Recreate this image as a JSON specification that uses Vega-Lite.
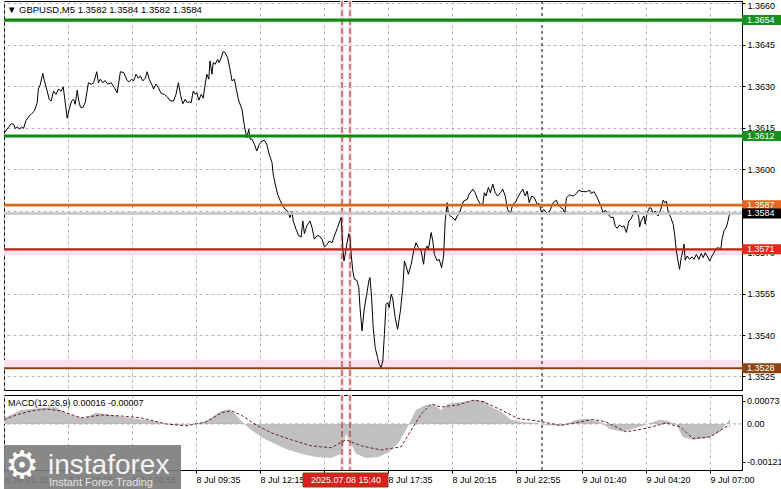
{
"$schema": "https://vega.github.io/schema/vega-lite/v6.json",
"background": "#ffffff",
"padding": {"left": 3, "top": 0, "right": 0, "bottom": 0},
"spacing": 3,
"config": {
  "view": {"stroke": "#000000", "strokeWidth": 1},
  "text": {"font": "Liberation Sans"},
  "axis": {"labelFont": "Liberation Sans", "labelFontSize": 9, "labelColor": "#000000", "tickColor": "#000000", "domainColor": "#000000", "gridColor": "#b4b4b4", "gridDash": [3, 3], "gridWidth": 1, "tickSize": 3, "labelPadding": 2}
},
"resolve": {"scale": {"x": "independent", "y": "independent"}},
"datasets": {
  "price": [
    {"t":"2025-07-08T01:35:00Z","p":1.36129},{"t":"2025-07-08T01:44:00Z","p":1.36148},{"t":"2025-07-08T01:53:00Z","p":1.36165},{"t":"2025-07-08T01:59:00Z","p":1.36163},
    {"t":"2025-07-08T02:03:00Z","p":1.36148},{"t":"2025-07-08T02:09:00Z","p":1.36153},{"t":"2025-07-08T02:13:00Z","p":1.36145},{"t":"2025-07-08T02:19:00Z","p":1.36153},
    {"t":"2025-07-08T02:24:00Z","p":1.36148},{"t":"2025-07-08T02:30:00Z","p":1.36177},{"t":"2025-07-08T02:38:00Z","p":1.36193},{"t":"2025-07-08T02:44:00Z","p":1.36201},
    {"t":"2025-07-08T02:51:00Z","p":1.36211},{"t":"2025-07-08T02:58:00Z","p":1.36241},{"t":"2025-07-08T03:01:00Z","p":1.36290},{"t":"2025-07-08T03:06:00Z","p":1.36308},
    {"t":"2025-07-08T03:12:00Z","p":1.36347},{"t":"2025-07-08T03:16:00Z","p":1.36320},{"t":"2025-07-08T03:23:00Z","p":1.36283},{"t":"2025-07-08T03:28:00Z","p":1.36253},
    {"t":"2025-07-08T03:33:00Z","p":1.36247},{"t":"2025-07-08T03:39:00Z","p":1.36283},{"t":"2025-07-08T03:45:00Z","p":1.36271},{"t":"2025-07-08T03:51:00Z","p":1.36290},
    {"t":"2025-07-08T03:58:00Z","p":1.36283},{"t":"2025-07-08T04:03:00Z","p":1.36298},{"t":"2025-07-08T04:06:00Z","p":1.36265},{"t":"2025-07-08T04:13:00Z","p":1.36185},
    {"t":"2025-07-08T04:18:00Z","p":1.36217},{"t":"2025-07-08T04:24:00Z","p":1.36247},{"t":"2025-07-08T04:29:00Z","p":1.36253},{"t":"2025-07-08T04:33:00Z","p":1.36235},
    {"t":"2025-07-08T04:38:00Z","p":1.36286},{"t":"2025-07-08T04:42:00Z","p":1.36247},{"t":"2025-07-08T04:46:00Z","p":1.36225},{"t":"2025-07-08T04:52:00Z","p":1.36223},
    {"t":"2025-07-08T04:58:00Z","p":1.36241},{"t":"2025-07-08T05:06:00Z","p":1.36313},{"t":"2025-07-08T05:13:00Z","p":1.36308},{"t":"2025-07-08T05:19:00Z","p":1.36313},
    {"t":"2025-07-08T05:27:00Z","p":1.36353},{"t":"2025-07-08T05:31:00Z","p":1.36313},{"t":"2025-07-08T05:36:00Z","p":1.36326},{"t":"2025-07-08T05:42:00Z","p":1.36313},
    {"t":"2025-07-08T05:48:00Z","p":1.36321},{"t":"2025-07-08T05:54:00Z","p":1.36308},{"t":"2025-07-08T06:03:00Z","p":1.36313},{"t":"2025-07-08T06:11:00Z","p":1.36295},
    {"t":"2025-07-08T06:18:00Z","p":1.36277},{"t":"2025-07-08T06:26:00Z","p":1.36353},{"t":"2025-07-08T06:34:00Z","p":1.36350},{"t":"2025-07-08T06:43:00Z","p":1.36321},
    {"t":"2025-07-08T06:48:00Z","p":1.36317},{"t":"2025-07-08T06:54:00Z","p":1.36326},{"t":"2025-07-08T06:59:00Z","p":1.36320},{"t":"2025-07-08T07:05:00Z","p":1.36344},
    {"t":"2025-07-08T07:11:00Z","p":1.36329},{"t":"2025-07-08T07:16:00Z","p":1.36338},{"t":"2025-07-08T07:22:00Z","p":1.36320},{"t":"2025-07-08T07:28:00Z","p":1.36329},
    {"t":"2025-07-08T07:33:00Z","p":1.36353},{"t":"2025-07-08T07:38:00Z","p":1.36326},{"t":"2025-07-08T07:44:00Z","p":1.36308},{"t":"2025-07-08T07:49:00Z","p":1.36290},
    {"t":"2025-07-08T07:55:00Z","p":1.36308},{"t":"2025-07-08T08:01:00Z","p":1.36295},{"t":"2025-07-08T08:08:00Z","p":1.36274},{"t":"2025-07-08T08:16:00Z","p":1.36271},
    {"t":"2025-07-08T08:23:00Z","p":1.36262},{"t":"2025-07-08T08:31:00Z","p":1.36247},{"t":"2025-07-08T08:39:00Z","p":1.36247},{"t":"2025-07-08T08:45:00Z","p":1.36271},
    {"t":"2025-07-08T08:51:00Z","p":1.36313},{"t":"2025-07-08T08:56:00Z","p":1.36271},{"t":"2025-07-08T09:02:00Z","p":1.36237},{"t":"2025-07-08T09:08:00Z","p":1.36253},
    {"t":"2025-07-08T09:13:00Z","p":1.36241},{"t":"2025-07-08T09:18:00Z","p":1.36244},{"t":"2025-07-08T09:23:00Z","p":1.36241},{"t":"2025-07-08T09:28:00Z","p":1.36283},
    {"t":"2025-07-08T09:33:00Z","p":1.36271},{"t":"2025-07-08T09:37:00Z","p":1.36277},{"t":"2025-07-08T09:42:00Z","p":1.36250},{"t":"2025-07-08T09:48:00Z","p":1.36271},
    {"t":"2025-07-08T09:53:00Z","p":1.36257},{"t":"2025-07-08T09:58:00Z","p":1.36308},{"t":"2025-07-08T10:02:00Z","p":1.36344},{"t":"2025-07-08T10:07:00Z","p":1.36326},
    {"t":"2025-07-08T10:10:00Z","p":1.36392},{"t":"2025-07-08T10:15:00Z","p":1.36344},{"t":"2025-07-08T10:18:00Z","p":1.36386},{"t":"2025-07-08T10:23:00Z","p":1.36380},
    {"t":"2025-07-08T10:29:00Z","p":1.36398},{"t":"2025-07-08T10:33:00Z","p":1.36386},{"t":"2025-07-08T10:38:00Z","p":1.36404},{"t":"2025-07-08T10:43:00Z","p":1.36426},
    {"t":"2025-07-08T10:48:00Z","p":1.36422},{"t":"2025-07-08T10:54:00Z","p":1.36404},{"t":"2025-07-08T11:00:00Z","p":1.36362},{"t":"2025-07-08T11:05:00Z","p":1.36320},
    {"t":"2025-07-08T11:11:00Z","p":1.36326},{"t":"2025-07-08T11:15:00Z","p":1.36295},{"t":"2025-07-08T11:22:00Z","p":1.36247},{"t":"2025-07-08T11:30:00Z","p":1.36217},
    {"t":"2025-07-08T11:36:00Z","p":1.36157},{"t":"2025-07-08T11:42:00Z","p":1.36114},{"t":"2025-07-08T11:47:00Z","p":1.36145},{"t":"2025-07-08T11:50:00Z","p":1.36109},
    {"t":"2025-07-08T11:55:00Z","p":1.36109},{"t":"2025-07-08T12:01:00Z","p":1.36090},{"t":"2025-07-08T12:07:00Z","p":1.36066},{"t":"2025-07-08T12:13:00Z","p":1.36090},
    {"t":"2025-07-08T12:20:00Z","p":1.36102},{"t":"2025-07-08T12:26:00Z","p":1.36105},{"t":"2025-07-08T12:32:00Z","p":1.36090},{"t":"2025-07-08T12:38:00Z","p":1.36054},
    {"t":"2025-07-08T12:45:00Z","p":1.36024},{"t":"2025-07-08T12:48:00Z","p":1.35982},{"t":"2025-07-08T12:53:00Z","p":1.35946},{"t":"2025-07-08T12:59:00Z","p":1.35910},
    {"t":"2025-07-08T13:05:00Z","p":1.35888},{"t":"2025-07-08T13:12:00Z","p":1.35867},{"t":"2025-07-08T13:18:00Z","p":1.35855},{"t":"2025-07-08T13:24:00Z","p":1.35849},
    {"t":"2025-07-08T13:30:00Z","p":1.35825},{"t":"2025-07-08T13:35:00Z","p":1.35847},{"t":"2025-07-08T13:38:00Z","p":1.35813},{"t":"2025-07-08T13:45:00Z","p":1.35783},
    {"t":"2025-07-08T13:52:00Z","p":1.35759},{"t":"2025-07-08T13:58:00Z","p":1.35755},{"t":"2025-07-08T14:02:00Z","p":1.35813},{"t":"2025-07-08T14:06:00Z","p":1.35767},
    {"t":"2025-07-08T14:12:00Z","p":1.35795},{"t":"2025-07-08T14:17:00Z","p":1.35807},{"t":"2025-07-08T14:20:00Z","p":1.35813},{"t":"2025-07-08T14:25:00Z","p":1.35789},
    {"t":"2025-07-08T14:31:00Z","p":1.35747},{"t":"2025-07-08T14:37:00Z","p":1.35759},{"t":"2025-07-08T14:43:00Z","p":1.35759},{"t":"2025-07-08T14:50:00Z","p":1.35747},
    {"t":"2025-07-08T14:56:00Z","p":1.35719},{"t":"2025-07-08T15:02:00Z","p":1.35726},{"t":"2025-07-08T15:08:00Z","p":1.35740},{"t":"2025-07-08T15:15:00Z","p":1.35734},
    {"t":"2025-07-08T15:21:00Z","p":1.35759},{"t":"2025-07-08T15:29:00Z","p":1.35789},{"t":"2025-07-08T15:35:00Z","p":1.35815},{"t":"2025-07-08T15:38:00Z","p":1.35825},
    {"t":"2025-07-08T15:42:00Z","p":1.35716},{"t":"2025-07-08T15:45:00Z","p":1.35668},{"t":"2025-07-08T15:48:00Z","p":1.35692},{"t":"2025-07-08T15:52:00Z","p":1.35729},
    {"t":"2025-07-08T15:57:00Z","p":1.35767},{"t":"2025-07-08T16:00:00Z","p":1.35752},{"t":"2025-07-08T16:03:00Z","p":1.35692},{"t":"2025-07-08T16:07:00Z","p":1.35632},
    {"t":"2025-07-08T16:11:00Z","p":1.35602},{"t":"2025-07-08T16:17:00Z","p":1.35598},{"t":"2025-07-08T16:22:00Z","p":1.35572},{"t":"2025-07-08T16:25:00Z","p":1.35499},
    {"t":"2025-07-08T16:30:00Z","p":1.35415},{"t":"2025-07-08T16:36:00Z","p":1.35499},{"t":"2025-07-08T16:42:00Z","p":1.35548},{"t":"2025-07-08T16:47:00Z","p":1.35596},
    {"t":"2025-07-08T16:50:00Z","p":1.35608},{"t":"2025-07-08T16:54:00Z","p":1.35535},{"t":"2025-07-08T16:58:00Z","p":1.35427},{"t":"2025-07-08T17:03:00Z","p":1.35354},
    {"t":"2025-07-08T17:09:00Z","p":1.35318},{"t":"2025-07-08T17:13:00Z","p":1.35294},{"t":"2025-07-08T17:18:00Z","p":1.35282},{"t":"2025-07-08T17:22:00Z","p":1.35306},
    {"t":"2025-07-08T17:26:00Z","p":1.35403},{"t":"2025-07-08T17:30:00Z","p":1.35511},{"t":"2025-07-08T17:34:00Z","p":1.35517},{"t":"2025-07-08T17:38:00Z","p":1.35499},
    {"t":"2025-07-08T17:43:00Z","p":1.35548},{"t":"2025-07-08T17:47:00Z","p":1.35530},{"t":"2025-07-08T17:53:00Z","p":1.35463},{"t":"2025-07-08T17:59:00Z","p":1.35421},
    {"t":"2025-07-08T18:06:00Z","p":1.35487},{"t":"2025-07-08T18:12:00Z","p":1.35572},{"t":"2025-07-08T18:16:00Z","p":1.35668},{"t":"2025-07-08T18:20:00Z","p":1.35650},
    {"t":"2025-07-08T18:26:00Z","p":1.35620},{"t":"2025-07-08T18:33:00Z","p":1.35656},{"t":"2025-07-08T18:39:00Z","p":1.35704},{"t":"2025-07-08T18:45:00Z","p":1.35734},
    {"t":"2025-07-08T18:51:00Z","p":1.35716},{"t":"2025-07-08T18:58:00Z","p":1.35704},{"t":"2025-07-08T19:04:00Z","p":1.35656},{"t":"2025-07-08T19:08:00Z","p":1.35710},
    {"t":"2025-07-08T19:13:00Z","p":1.35722},{"t":"2025-07-08T19:16:00Z","p":1.35710},{"t":"2025-07-08T19:23:00Z","p":1.35771},{"t":"2025-07-08T19:27:00Z","p":1.35740},
    {"t":"2025-07-08T19:31:00Z","p":1.35692},{"t":"2025-07-08T19:38:00Z","p":1.35668},{"t":"2025-07-08T19:43:00Z","p":1.35674},{"t":"2025-07-08T19:49:00Z","p":1.35644},
    {"t":"2025-07-08T19:54:00Z","p":1.35686},{"t":"2025-07-08T19:58:00Z","p":1.35813},{"t":"2025-07-08T20:03:00Z","p":1.35879},{"t":"2025-07-08T20:06:00Z","p":1.35837},
    {"t":"2025-07-08T20:11:00Z","p":1.35831},{"t":"2025-07-08T20:17:00Z","p":1.35825},{"t":"2025-07-08T20:23:00Z","p":1.35815},{"t":"2025-07-08T20:28:00Z","p":1.35831},
    {"t":"2025-07-08T20:33:00Z","p":1.35837},{"t":"2025-07-08T20:38:00Z","p":1.35861},{"t":"2025-07-08T20:44:00Z","p":1.35885},{"t":"2025-07-08T20:53:00Z","p":1.35891},
    {"t":"2025-07-08T20:58:00Z","p":1.35910},{"t":"2025-07-08T21:07:00Z","p":1.35928},{"t":"2025-07-08T21:13:00Z","p":1.35915},{"t":"2025-07-08T21:19:00Z","p":1.35891},
    {"t":"2025-07-08T21:26:00Z","p":1.35873},{"t":"2025-07-08T21:32:00Z","p":1.35873},{"t":"2025-07-08T21:36:00Z","p":1.35915},{"t":"2025-07-08T21:40:00Z","p":1.35903},
    {"t":"2025-07-08T21:46:00Z","p":1.35934},{"t":"2025-07-08T21:51:00Z","p":1.35915},{"t":"2025-07-08T21:57:00Z","p":1.35946},{"t":"2025-07-08T22:03:00Z","p":1.35915},
    {"t":"2025-07-08T22:09:00Z","p":1.35903},{"t":"2025-07-08T22:16:00Z","p":1.35915},{"t":"2025-07-08T22:22:00Z","p":1.35928},{"t":"2025-07-08T22:28:00Z","p":1.35903},
    {"t":"2025-07-08T22:34:00Z","p":1.35855},{"t":"2025-07-08T22:41:00Z","p":1.35839},{"t":"2025-07-08T22:47:00Z","p":1.35873},{"t":"2025-07-08T22:53:00Z","p":1.35879},
    {"t":"2025-07-08T22:59:00Z","p":1.35897},{"t":"2025-07-08T23:06:00Z","p":1.35915},{"t":"2025-07-08T23:12:00Z","p":1.35928},{"t":"2025-07-08T23:18:00Z","p":1.35903},
    {"t":"2025-07-08T23:23:00Z","p":1.35921},{"t":"2025-07-08T23:28:00Z","p":1.35879},{"t":"2025-07-08T23:34:00Z","p":1.35903},{"t":"2025-07-08T23:41:00Z","p":1.35897},
    {"t":"2025-07-08T23:48:00Z","p":1.35873},{"t":"2025-07-08T23:53:00Z","p":1.35876},{"t":"2025-07-08T23:59:00Z","p":1.35843},{"t":"2025-07-09T00:04:00Z","p":1.35855},
    {"t":"2025-07-09T00:15:00Z","p":1.35837},{"t":"2025-07-09T00:21:00Z","p":1.35855},{"t":"2025-07-09T00:28:00Z","p":1.35879},{"t":"2025-07-09T00:36:00Z","p":1.35888},
    {"t":"2025-07-09T00:40:00Z","p":1.35873},{"t":"2025-07-09T00:47:00Z","p":1.35861},{"t":"2025-07-09T00:53:00Z","p":1.35855},{"t":"2025-07-09T00:57:00Z","p":1.35839},
    {"t":"2025-07-09T01:01:00Z","p":1.35897},{"t":"2025-07-09T01:09:00Z","p":1.35907},{"t":"2025-07-09T01:18:00Z","p":1.35903},{"t":"2025-07-09T01:26:00Z","p":1.35912},
    {"t":"2025-07-09T01:32:00Z","p":1.35924},{"t":"2025-07-09T01:40:00Z","p":1.35919},{"t":"2025-07-09T01:51:00Z","p":1.35919},{"t":"2025-07-09T01:59:00Z","p":1.35924},
    {"t":"2025-07-09T02:03:00Z","p":1.35912},{"t":"2025-07-09T02:10:00Z","p":1.35919},{"t":"2025-07-09T02:16:00Z","p":1.35903},{"t":"2025-07-09T02:22:00Z","p":1.35885},
    {"t":"2025-07-09T02:27:00Z","p":1.35867},{"t":"2025-07-09T02:33:00Z","p":1.35843},{"t":"2025-07-09T02:38:00Z","p":1.35852},{"t":"2025-07-09T02:45:00Z","p":1.35839},
    {"t":"2025-07-09T02:52:00Z","p":1.35825},{"t":"2025-07-09T02:58:00Z","p":1.35827},{"t":"2025-07-09T03:03:00Z","p":1.35795},{"t":"2025-07-09T03:08:00Z","p":1.35786},
    {"t":"2025-07-09T03:14:00Z","p":1.35798},{"t":"2025-07-09T03:20:00Z","p":1.35791},{"t":"2025-07-09T03:25:00Z","p":1.35795},{"t":"2025-07-09T03:31:00Z","p":1.35771},
    {"t":"2025-07-09T03:37:00Z","p":1.35813},{"t":"2025-07-09T03:42:00Z","p":1.35819},{"t":"2025-07-09T03:48:00Z","p":1.35837},{"t":"2025-07-09T03:53:00Z","p":1.35849},
    {"t":"2025-07-09T03:58:00Z","p":1.35843},{"t":"2025-07-09T04:02:00Z","p":1.35825},{"t":"2025-07-09T04:04:00Z","p":1.35791},{"t":"2025-07-09T04:08:00Z","p":1.35813},
    {"t":"2025-07-09T04:15:00Z","p":1.35831},{"t":"2025-07-09T04:18:00Z","p":1.35801},{"t":"2025-07-09T04:23:00Z","p":1.35843},{"t":"2025-07-09T04:29:00Z","p":1.35861},
    {"t":"2025-07-09T04:33:00Z","p":1.35859},{"t":"2025-07-09T04:38:00Z","p":1.35837},{"t":"2025-07-09T04:43:00Z","p":1.35849},{"t":"2025-07-09T04:50:00Z","p":1.35831},
    {"t":"2025-07-09T04:57:00Z","p":1.35855},{"t":"2025-07-09T05:03:00Z","p":1.35888},{"t":"2025-07-09T05:07:00Z","p":1.35879},{"t":"2025-07-09T05:11:00Z","p":1.35885},
    {"t":"2025-07-09T05:15:00Z","p":1.35849},{"t":"2025-07-09T05:22:00Z","p":1.35825},{"t":"2025-07-09T05:28:00Z","p":1.35801},{"t":"2025-07-09T05:32:00Z","p":1.35759},
    {"t":"2025-07-09T05:36:00Z","p":1.35704},{"t":"2025-07-09T05:40:00Z","p":1.35668},{"t":"2025-07-09T05:44:00Z","p":1.35638},{"t":"2025-07-09T05:48:00Z","p":1.35680},
    {"t":"2025-07-09T05:53:00Z","p":1.35710},{"t":"2025-07-09T05:55:00Z","p":1.35729},{"t":"2025-07-09T05:58:00Z","p":1.35671},{"t":"2025-07-09T06:03:00Z","p":1.35686},
    {"t":"2025-07-09T06:09:00Z","p":1.35674},{"t":"2025-07-09T06:15:00Z","p":1.35683},{"t":"2025-07-09T06:20:00Z","p":1.35674},{"t":"2025-07-09T06:26:00Z","p":1.35692},
    {"t":"2025-07-09T06:32:00Z","p":1.35674},{"t":"2025-07-09T06:38:00Z","p":1.35695},{"t":"2025-07-09T06:43:00Z","p":1.35680},{"t":"2025-07-09T06:48:00Z","p":1.35698},
    {"t":"2025-07-09T06:53:00Z","p":1.35686},{"t":"2025-07-09T06:59:00Z","p":1.35668},{"t":"2025-07-09T07:05:00Z","p":1.35686},{"t":"2025-07-09T07:10:00Z","p":1.35698},
    {"t":"2025-07-09T07:16:00Z","p":1.35714},{"t":"2025-07-09T07:22:00Z","p":1.35716},{"t":"2025-07-09T07:27:00Z","p":1.35710},{"t":"2025-07-09T07:30:00Z","p":1.35747},
    {"t":"2025-07-09T07:35:00Z","p":1.35777},{"t":"2025-07-09T07:41:00Z","p":1.35791},{"t":"2025-07-09T07:45:00Z","p":1.35813},{"t":"2025-07-09T07:49:00Z","p":1.35840}
  ],
  "hist": [
    {"t":"2025-07-08T01:35:00Z","v":0.00019},{"t":"2025-07-08T02:17:00Z","v":0.00044},{"t":"2025-07-08T03:08:00Z","v":0.00050},{"t":"2025-07-08T03:45:00Z","v":0.00053},
    {"t":"2025-07-08T04:03:00Z","v":0.00038},{"t":"2025-07-08T04:23:00Z","v":0.00028},{"t":"2025-07-08T04:55:00Z","v":0.00017},{"t":"2025-07-08T05:25:00Z","v":0.00035},
    {"t":"2025-07-08T05:50:00Z","v":0.00031},{"t":"2025-07-08T06:23:00Z","v":0.00024},{"t":"2025-07-08T07:00:00Z","v":0.00017},{"t":"2025-07-08T07:43:00Z","v":0.00011},
    {"t":"2025-07-08T08:08:00Z","v":0.00003},{"t":"2025-07-08T08:33:00Z","v":-0.00003},{"t":"2025-07-08T09:10:00Z","v":-0.00003},{"t":"2025-07-08T09:48:00Z","v":0.00003},
    {"t":"2025-07-08T10:13:00Z","v":0.00019},{"t":"2025-07-08T10:38:00Z","v":0.00041},{"t":"2025-07-08T10:58:00Z","v":0.00047},{"t":"2025-07-08T11:15:00Z","v":0.00028},
    {"t":"2025-07-08T11:33:00Z","v":0.00003},{"t":"2025-07-08T11:53:00Z","v":-0.00019},{"t":"2025-07-08T12:18:00Z","v":-0.00041},{"t":"2025-07-08T12:43:00Z","v":-0.00057},
    {"t":"2025-07-08T13:20:00Z","v":-0.00079},{"t":"2025-07-08T13:58:00Z","v":-0.00094},{"t":"2025-07-08T14:35:00Z","v":-0.00104},{"t":"2025-07-08T15:13:00Z","v":-0.00107},
    {"t":"2025-07-08T15:38:00Z","v":-0.00094},{"t":"2025-07-08T15:50:00Z","v":-0.00031},{"t":"2025-07-08T16:00:00Z","v":-0.00057},{"t":"2025-07-08T16:15:00Z","v":-0.00094},
    {"t":"2025-07-08T16:40:00Z","v":-0.00107},{"t":"2025-07-08T17:12:00Z","v":-0.00104},{"t":"2025-07-08T17:38:00Z","v":-0.00088},{"t":"2025-07-08T18:03:00Z","v":-0.00057},
    {"t":"2025-07-08T18:20:00Z","v":-0.00019},{"t":"2025-07-08T18:33:00Z","v":0.00013},{"t":"2025-07-08T18:45:00Z","v":0.00044},{"t":"2025-07-08T19:10:00Z","v":0.00060},
    {"t":"2025-07-08T19:30:00Z","v":0.00060},{"t":"2025-07-08T19:48:00Z","v":0.00044},{"t":"2025-07-08T20:05:00Z","v":0.00063},{"t":"2025-07-08T20:38:00Z","v":0.00069},
    {"t":"2025-07-08T21:10:00Z","v":0.00075},{"t":"2025-07-08T21:35:00Z","v":0.00072},{"t":"2025-07-08T21:53:00Z","v":0.00053},{"t":"2025-07-08T22:18:00Z","v":0.00038},
    {"t":"2025-07-08T22:43:00Z","v":0.00013},{"t":"2025-07-08T23:08:00Z","v":0.00006},{"t":"2025-07-08T23:45:00Z","v":0.00003},{"t":"2025-07-09T00:15:00Z","v":-0.00005},
    {"t":"2025-07-09T00:53:00Z","v":-0.00005},{"t":"2025-07-09T01:25:00Z","v":0.00013},{"t":"2025-07-09T01:55:00Z","v":0.00016},{"t":"2025-07-09T02:25:00Z","v":0.00006},
    {"t":"2025-07-09T02:50:00Z","v":-0.00016},{"t":"2025-07-09T03:22:00Z","v":-0.00025},{"t":"2025-07-09T04:12:00Z","v":-0.00006},{"t":"2025-07-09T04:55:00Z","v":0.00013},
    {"t":"2025-07-09T05:15:00Z","v":0.00009},{"t":"2025-07-09T05:35:00Z","v":0.00000},{"t":"2025-07-09T05:52:00Z","v":-0.00041},{"t":"2025-07-09T06:17:00Z","v":-0.00050},
    {"t":"2025-07-09T06:55:00Z","v":-0.00044},{"t":"2025-07-09T07:25:00Z","v":-0.00025},{"t":"2025-07-09T07:40:00Z","v":0.00000},{"t":"2025-07-09T07:50:00Z","v":0.00016}
  ],
  "signal": [
    {"t":"2025-07-08T01:35:00Z","v":0.00013},{"t":"2025-07-08T02:05:00Z","v":0.00028},{"t":"2025-07-08T02:43:00Z","v":0.00041},{"t":"2025-07-08T03:20:00Z","v":0.00047},
    {"t":"2025-07-08T03:58:00Z","v":0.00041},{"t":"2025-07-08T04:48:00Z","v":0.00019},{"t":"2025-07-08T05:38:00Z","v":0.00028},{"t":"2025-07-08T06:28:00Z","v":0.00025},
    {"t":"2025-07-08T07:18:00Z","v":0.00019},{"t":"2025-07-08T08:20:00Z","v":0.00000},{"t":"2025-07-08T09:10:00Z","v":-0.00006},{"t":"2025-07-08T10:00:00Z","v":0.00006},
    {"t":"2025-07-08T10:38:00Z","v":0.00035},{"t":"2025-07-08T11:03:00Z","v":0.00041},{"t":"2025-07-08T11:28:00Z","v":0.00028},{"t":"2025-07-08T12:05:00Z","v":-0.00003},
    {"t":"2025-07-08T12:43:00Z","v":-0.00028},{"t":"2025-07-08T13:33:00Z","v":-0.00050},{"t":"2025-07-08T14:23:00Z","v":-0.00069},{"t":"2025-07-08T15:13:00Z","v":-0.00075},
    {"t":"2025-07-08T15:50:00Z","v":-0.00050},{"t":"2025-07-08T16:28:00Z","v":-0.00069},{"t":"2025-07-08T17:18:00Z","v":-0.00082},{"t":"2025-07-08T18:08:00Z","v":-0.00072},
    {"t":"2025-07-08T18:33:00Z","v":-0.00019},{"t":"2025-07-08T18:58:00Z","v":0.00031},{"t":"2025-07-08T19:23:00Z","v":0.00063},{"t":"2025-07-08T19:48:00Z","v":0.00053},
    {"t":"2025-07-08T20:30:00Z","v":0.00060},{"t":"2025-07-08T21:10:00Z","v":0.00075},{"t":"2025-07-08T21:35:00Z","v":0.00069},{"t":"2025-07-08T22:18:00Z","v":0.00044},
    {"t":"2025-07-08T23:00:00Z","v":0.00017},{"t":"2025-07-08T23:40:00Z","v":0.00011},{"t":"2025-07-09T00:20:00Z","v":0.00002},{"t":"2025-07-09T00:45:00Z","v":-0.00005},
    {"t":"2025-07-09T01:17:00Z","v":0.00002},{"t":"2025-07-09T02:07:00Z","v":0.00014},{"t":"2025-07-09T02:40:00Z","v":0.00006},{"t":"2025-07-09T03:30:00Z","v":-0.00025},
    {"t":"2025-07-09T04:20:00Z","v":-0.00014},{"t":"2025-07-09T05:10:00Z","v":0.00003},{"t":"2025-07-09T05:45:00Z","v":-0.00009},{"t":"2025-07-09T06:17:00Z","v":-0.00046},
    {"t":"2025-07-09T07:00:00Z","v":-0.00041},{"t":"2025-07-09T07:40:00Z","v":-0.00009},{"t":"2025-07-09T07:50:00Z","v":-0.00007}
  ],
  "macdTicks": [{"v":0.00073,"lab":"0.00073"},{"v":0,"lab":"0.00"},{"v":-0.00121,"lab":"-0.00121"}],
  "levels": [
    {"label":"1.3654","price":1.3654},{"label":"1.3612","price":1.3612},{"label":"1.3571","price":1.3571},
    {"label":"1.3528","price":1.3528},{"label":"1.3587","price":1.3587},{"label":"1.3584","price":1.3584}
  ],
  "zones": [{"lo":1.35690,"hi":1.35708},{"lo":1.35283,"hi":1.35310}],
  "events": [{"t":"2025-07-08T15:40:00Z"},{"t":"2025-07-08T16:00:00Z"}],
  "separators": [{"t":"2025-07-09T00:00:00Z"}]
},
"vconcat": [
  {
    "width": 738,
    "height": 389,
    "layer": [
      {
        "data": {"name": "zones"},
        "mark": {"type": "rect", "color": "#ffe1ee", "clip": true},
        "encoding": {
          "x": {"datum": {"year":2025,"month":7,"date":8,"hours":1,"minutes":35,"utc":true}, "type": "temporal",
            "scale": {"type": "utc", "nice": false, "domain": [{"year":2025,"month":7,"date":8,"hours":1,"minutes":35,"utc":true},{"year":2025,"month":7,"date":9,"hours":8,"minutes":20,"utc":true}]},
            "axis": {"title": null, "orient": "bottom", "labels": false, "ticks": false, "domain": false, "grid": true,
              "values": [
                {"year":2025,"month":7,"date":8,"hours":1,"minutes":35,"utc":true},{"year":2025,"month":7,"date":8,"hours":2,"minutes":55,"utc":true},
                {"year":2025,"month":7,"date":8,"hours":4,"minutes":15,"utc":true},{"year":2025,"month":7,"date":8,"hours":5,"minutes":35,"utc":true},
                {"year":2025,"month":7,"date":8,"hours":6,"minutes":55,"utc":true},{"year":2025,"month":7,"date":8,"hours":8,"minutes":15,"utc":true},
                {"year":2025,"month":7,"date":8,"hours":9,"minutes":35,"utc":true},{"year":2025,"month":7,"date":8,"hours":10,"minutes":55,"utc":true},
                {"year":2025,"month":7,"date":8,"hours":12,"minutes":15,"utc":true},{"year":2025,"month":7,"date":8,"hours":13,"minutes":35,"utc":true},
                {"year":2025,"month":7,"date":8,"hours":14,"minutes":55,"utc":true},{"year":2025,"month":7,"date":8,"hours":16,"minutes":15,"utc":true},
                {"year":2025,"month":7,"date":8,"hours":17,"minutes":35,"utc":true},{"year":2025,"month":7,"date":8,"hours":18,"minutes":55,"utc":true},
                {"year":2025,"month":7,"date":8,"hours":20,"minutes":15,"utc":true},{"year":2025,"month":7,"date":8,"hours":21,"minutes":35,"utc":true},
                {"year":2025,"month":7,"date":8,"hours":22,"minutes":55,"utc":true},{"year":2025,"month":7,"date":9,"hours":0,"minutes":20,"utc":true},
                {"year":2025,"month":7,"date":9,"hours":1,"minutes":40,"utc":true},{"year":2025,"month":7,"date":9,"hours":3,"minutes":0,"utc":true},
                {"year":2025,"month":7,"date":9,"hours":4,"minutes":20,"utc":true},{"year":2025,"month":7,"date":9,"hours":5,"minutes":40,"utc":true},
                {"year":2025,"month":7,"date":9,"hours":7,"minutes":0,"utc":true}
              ]}},
          "x2": {"datum": {"year":2025,"month":7,"date":9,"hours":8,"minutes":20,"utc":true}},
          "y": {"field": "lo", "type": "quantitative",
            "scale": {"domain": [1.35201, 1.36609], "nice": false, "zero": false},
            "axis": {"title": null, "orient": "right", "grid": true, "format": ".4f", "labelFlush": 3, "labelFlushOffset": 2, "labelOverlap": false,
              "values": [1.3660, 1.3645, 1.3630, 1.3615, 1.3600, 1.3585, 1.3570, 1.3555, 1.3540, 1.3525]}},
          "y2": {"field": "hi"}
        }
      },
      {
        "data": {"name": "events"},
        "mark": {"type": "rect", "color": "#fbe3ea", "clip": true, "xOffset": -2, "x2Offset": 2},
        "encoding": {"x": {"field": "t", "type": "temporal"}, "x2": {"field": "t"}}
      },
      {
        "data": {"name": "price"},
        "mark": {"type": "line", "color": "#000000", "strokeWidth": 1, "clip": true},
        "encoding": {
          "x": {"field": "t", "type": "temporal"},
          "y": {"field": "p", "type": "quantitative"}
        }
      },
      {
        "data": {"name": "events"},
        "mark": {"type": "rule", "color": "#a31515", "strokeWidth": 1, "strokeDash": [6, 3], "clip": true},
        "encoding": {"x": {"field": "t", "type": "temporal"}}
      },
      {
        "data": {"name": "separators"},
        "mark": {"type": "rule", "color": "#000000", "strokeWidth": 1, "strokeDash": [3, 3], "clip": true},
        "encoding": {"x": {"field": "t", "type": "temporal"}}
      },
      {
        "data": {"name": "levels"},
        "mark": {"type": "rule", "clip": true},
        "encoding": {
          "y": {"field": "price", "type": "quantitative"},
          "stroke": {"field": "label", "type": "nominal", "legend": null,
            "scale": {"domain": ["1.3654","1.3612","1.3587","1.3584","1.3571","1.3528"], "range": ["#0f8a0f","#0f8a0f","#d2691e","#c4c4c4","#b8231b","#8b4513"]}},
          "strokeWidth": {"field": "label", "type": "ordinal", "legend": null,
            "scale": {"domain": ["1.3654","1.3612","1.3587","1.3584","1.3571","1.3528"], "range": [3.2, 2, 1, 1, 2.4, 4.4]}}
        }
      },
      {
        "data": {"name": "levels"},
        "mark": {"type": "rect", "clip": false, "x2Offset": 40, "yOffset": -5, "y2Offset": 5},
        "encoding": {
          "x": {"datum": {"year":2025,"month":7,"date":9,"hours":8,"minutes":20,"utc":true}, "type": "temporal"},
          "x2": {"datum": {"year":2025,"month":7,"date":9,"hours":8,"minutes":20,"utc":true}},
          "y": {"field": "price", "type": "quantitative"},
          "y2": {"field": "price"},
          "fill": {"field": "label", "type": "nominal", "legend": null,
            "scale": {"domain": ["1.3654","1.3612","1.3587","1.3584","1.3571","1.3528"], "range": ["#15901a","#15901a","#e8641c","#000000","#e8281e","#8b4513"]}}
        }
      },
      {
        "data": {"name": "levels"},
        "mark": {"type": "text", "clip": false, "align": "left", "baseline": "middle", "dx": 5, "fontSize": 9, "color": "#ffffff"},
        "encoding": {
          "x": {"datum": {"year":2025,"month":7,"date":9,"hours":8,"minutes":20,"utc":true}, "type": "temporal"},
          "y": {"field": "price", "type": "quantitative"},
          "text": {"field": "label"}
        }
      },
      {
        "data": {"values": [{"txt": "▼ GBPUSD,M5  1.3582 1.3584 1.3582 1.3584"}]},
        "mark": {"type": "text", "align": "left", "baseline": "middle", "dx": 3, "dy": 7, "fontSize": 9.5, "color": "#000000"},
        "encoding": {
          "x": {"datum": {"year":2025,"month":7,"date":8,"hours":1,"minutes":35,"utc":true}, "type": "temporal"},
          "y": {"datum": 1.3660, "type": "quantitative"},
          "text": {"field": "txt"}
        }
      }
    ]
  },
  {
    "width": 738,
    "height": 75,
    "layer": [
      {
        "data": {"name": "events"},
        "mark": {"type": "rect", "color": "#fbe3ea", "clip": true, "xOffset": -2, "x2Offset": 2},
        "encoding": {
          "x": {"field": "t", "type": "temporal",
            "scale": {"type": "utc", "nice": false, "domain": [{"year":2025,"month":7,"date":8,"hours":1,"minutes":35,"utc":true},{"year":2025,"month":7,"date":9,"hours":8,"minutes":20,"utc":true}]},
            "axis": {"title": null, "orient": "bottom", "grid": true, "labelAlign": "left", "labelOverlap": false, "labelFlush": false, "labelBound": false,
              "labelExpr": "indexof(['01:35','04:15','06:55','09:35','12:15','14:55','17:35','20:15','22:55','01:40','04:20','07:00'], utcFormat(datum.value, '%H:%M')) >= 0 ? utcFormat(datum.value, '%-d %b %H:%M') : ''",
              "values": [
                {"year":2025,"month":7,"date":8,"hours":1,"minutes":35,"utc":true},{"year":2025,"month":7,"date":8,"hours":2,"minutes":55,"utc":true},
                {"year":2025,"month":7,"date":8,"hours":4,"minutes":15,"utc":true},{"year":2025,"month":7,"date":8,"hours":5,"minutes":35,"utc":true},
                {"year":2025,"month":7,"date":8,"hours":6,"minutes":55,"utc":true},{"year":2025,"month":7,"date":8,"hours":8,"minutes":15,"utc":true},
                {"year":2025,"month":7,"date":8,"hours":9,"minutes":35,"utc":true},{"year":2025,"month":7,"date":8,"hours":10,"minutes":55,"utc":true},
                {"year":2025,"month":7,"date":8,"hours":12,"minutes":15,"utc":true},{"year":2025,"month":7,"date":8,"hours":13,"minutes":35,"utc":true},
                {"year":2025,"month":7,"date":8,"hours":14,"minutes":55,"utc":true},{"year":2025,"month":7,"date":8,"hours":16,"minutes":15,"utc":true},
                {"year":2025,"month":7,"date":8,"hours":17,"minutes":35,"utc":true},{"year":2025,"month":7,"date":8,"hours":18,"minutes":55,"utc":true},
                {"year":2025,"month":7,"date":8,"hours":20,"minutes":15,"utc":true},{"year":2025,"month":7,"date":8,"hours":21,"minutes":35,"utc":true},
                {"year":2025,"month":7,"date":8,"hours":22,"minutes":55,"utc":true},{"year":2025,"month":7,"date":9,"hours":0,"minutes":20,"utc":true},
                {"year":2025,"month":7,"date":9,"hours":1,"minutes":40,"utc":true},{"year":2025,"month":7,"date":9,"hours":3,"minutes":0,"utc":true},
                {"year":2025,"month":7,"date":9,"hours":4,"minutes":20,"utc":true},{"year":2025,"month":7,"date":9,"hours":5,"minutes":40,"utc":true},
                {"year":2025,"month":7,"date":9,"hours":7,"minutes":0,"utc":true}
              ]}},
          "x2": {"field": "t"}
        }
      },
      {
        "data": {"name": "hist"},
        "mark": {"type": "area", "color": "#c0c0c0", "clip": true},
        "encoding": {
          "x": {"field": "t", "type": "temporal"},
          "y": {"field": "v", "type": "quantitative",
            "scale": {"domain": [-0.00145, 0.00091], "nice": false, "zero": false},
            "axis": {"title": null, "orient": "right", "grid": false, "labels": false, "values": [0.00073, 0.000000001, -0.00121]}},
          "y2": {"datum": 0}
        }
      },
      {
        "data": {"values": [{"v": 0}]},
        "mark": {"type": "rule", "color": "#a8a8a8", "strokeDash": [3, 3], "clip": true},
        "encoding": {"y": {"field": "v", "type": "quantitative"}}
      },
      {
        "data": {"name": "events"},
        "mark": {"type": "rule", "color": "#a31515", "strokeWidth": 1, "strokeDash": [6, 3], "clip": true},
        "encoding": {"x": {"field": "t", "type": "temporal"}}
      },
      {
        "data": {"name": "separators"},
        "mark": {"type": "rule", "color": "#000000", "strokeWidth": 1, "strokeDash": [3, 3], "clip": true},
        "encoding": {"x": {"field": "t", "type": "temporal"}}
      },
      {
        "data": {"name": "signal"},
        "mark": {"type": "line", "color": "#6e1f1f", "strokeWidth": 1, "strokeDash": [3, 2], "clip": true},
        "encoding": {
          "x": {"field": "t", "type": "temporal"},
          "y": {"field": "v", "type": "quantitative"}
        }
      },
      {
        "data": {"name": "macdTicks"},
        "mark": {"type": "text", "clip": false, "align": "left", "baseline": "middle", "dx": 5, "fontSize": 9, "color": "#000000"},
        "encoding": {
          "x": {"datum": {"year":2025,"month":7,"date":9,"hours":8,"minutes":20,"utc":true}, "type": "temporal"},
          "y": {"field": "v", "type": "quantitative"},
          "text": {"field": "lab"}
        }
      },
      {
        "data": {"values": [{"txt": "MACD(12,26,9) 0.00016 -0.00007"}]},
        "mark": {"type": "text", "align": "left", "baseline": "middle", "dx": 4, "dy": 8, "fontSize": 9, "color": "#000000"},
        "encoding": {
          "x": {"datum": {"year":2025,"month":7,"date":8,"hours":1,"minutes":35,"utc":true}, "type": "temporal"},
          "y": {"datum": 0.00091, "type": "quantitative"},
          "text": {"field": "txt"}
        }
      },
      {
        "data": {"values": [{"t": "2025-07-08T15:40:00Z", "label": "2025.07.08 15:40"}]},
        "mark": {"type": "rect", "clip": false, "xOffset": -39, "x2Offset": 46, "yOffset": 3, "y2Offset": 17, "fill": "#dc1e1e", "stroke": "#7a4a10", "strokeWidth": 1},
        "encoding": {
          "x": {"field": "t", "type": "temporal"},
          "x2": {"field": "t"},
          "y": {"datum": -0.00145, "type": "quantitative"},
          "y2": {"datum": -0.00145}
        }
      },
      {
        "data": {"values": [{"t": "2025-07-08T15:40:00Z", "label": "2025.07.08 15:40"}]},
        "mark": {"type": "text", "clip": false, "align": "center", "baseline": "middle", "dx": 4, "dy": 10, "fontSize": 9, "color": "#ffffff"},
        "encoding": {
          "x": {"field": "t", "type": "temporal"},
          "y": {"datum": -0.00145, "type": "quantitative"},
          "text": {"field": "label"}
        }
      },
      {
        "data": {"values": [{"t": "2025-07-08T01:35:00Z"}]},
        "mark": {"type": "rect", "clip": false, "x2Offset": 177, "yOffset": -25, "y2Offset": 21, "fill": "#7b7b7b", "opacity": 0.9},
        "encoding": {
          "x": {"field": "t", "type": "temporal"},
          "x2": {"field": "t"},
          "y": {"datum": -0.00145, "type": "quantitative"},
          "y2": {"datum": -0.00145}
        }
      },
      {
        "data": {"values": [{"t": "2025-07-08T01:35:00Z", "txt": "⚙"}]},
        "mark": {"type": "text", "clip": false, "align": "center", "baseline": "middle", "dx": 18, "dy": -3, "fontSize": 38, "font": "DejaVu Sans", "color": "#ffffff"},
        "encoding": {
          "x": {"field": "t", "type": "temporal"},
          "y": {"datum": -0.00145, "type": "quantitative"},
          "text": {"field": "txt"}
        }
      },
      {
        "data": {"values": [{"t": "2025-07-08T01:35:00Z", "txt": "instaforex"}]},
        "mark": {"type": "text", "clip": false, "align": "left", "baseline": "alphabetic", "dx": 44, "dy": 4, "fontSize": 28, "color": "#f4f4f4"},
        "encoding": {
          "x": {"field": "t", "type": "temporal"},
          "y": {"datum": -0.00145, "type": "quantitative"},
          "text": {"field": "txt"}
        }
      },
      {
        "data": {"values": [{"t": "2025-07-08T01:35:00Z", "txt": "Instant Forex Trading"}]},
        "mark": {"type": "text", "clip": false, "align": "left", "baseline": "middle", "dx": 45, "dy": 13, "fontSize": 11, "color": "#e6e6e6"},
        "encoding": {
          "x": {"field": "t", "type": "temporal"},
          "y": {"datum": -0.00145, "type": "quantitative"},
          "text": {"field": "txt"}
        }
      }
    ]
  }
]
}
